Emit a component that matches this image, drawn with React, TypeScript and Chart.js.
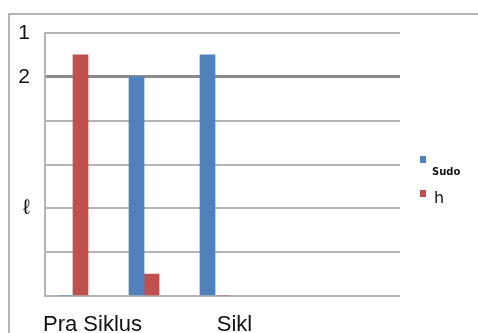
import React, { useEffect, useRef } from "react";
import { Chart, registerables } from "chart.js";

Chart.register(...registerables);

const categories = ["Pra Siklus", "", "Sikl", "", ""];
const sudoValues = [0, 5, 5.5, null, null];
const hValues = [5.5, 0.5, 0, null, null];
const emptyValues = [null, null, null, null, null];
const seriesNames = ["Sudo", "h"];
const yTickLabels = ["", "", "ℓ", "", "", "2", "1"];

const BLUE = "#4F81BD";
const RED = "#C0504D";

const legendPlugin = {
  id: "customLegend",
  afterDraw(chart: any) {
    const ctx = chart.ctx;
    const ds = chart.data.datasets;
    ctx.save();
    ctx.textBaseline = "alphabetic";
    ctx.textAlign = "left";
    ctx.fillStyle = ds[0].backgroundColor;
    ctx.fillRect(410, 141, 6, 7);
    ctx.fillStyle = "#111";
    ctx.font = "bold 10px 'DejaVu Sans'";
    ctx.fillText(ds[0].label, 422, 160);
    ctx.fillStyle = ds[1].backgroundColor;
    ctx.fillRect(410, 175, 6, 7);
    ctx.fillStyle = "#111";
    ctx.font = "16px 'DejaVu Sans'";
    ctx.fillText(ds[1].label, 424, 188);
    ctx.restore();
  },
};

const areaPlugin = {
  id: "fixedArea",
  afterLayout(chart: any) {
    // keep plot top fixed regardless of label padding
    const a = chart.chartArea;
    const wantTop = 18;
    if (a.top !== wantTop) {
      const y = chart.scales.y;
      a.top = wantTop;
      a.height = a.bottom - a.top;
      y.top = wantTop;
      y.height = a.bottom - wantTop;
      y.configure();
    }
  },
};

export default function App() {
  const ref = useRef<HTMLCanvasElement | null>(null);
  useEffect(() => {
    if (!ref.current) return;
    const chart = new Chart(ref.current, {
      type: "bar",
      data: {
        labels: categories,
        datasets: [
          { label: seriesNames[0], data: sudoValues, backgroundColor: BLUE, barThickness: 15 },
          { label: seriesNames[1], data: hValues, backgroundColor: RED, barThickness: 15 },
          { label: "", data: emptyValues, backgroundColor: "transparent", barThickness: 15 },
        ],
      },
      options: {
        animation: false,
        responsive: false,
        maintainAspectRatio: false,
        layout: { autoPadding: false, padding: { top: 18, right: 78, left: 0, bottom: 0 } },
        plugins: { legend: { display: false }, tooltip: { enabled: false } },
        scales: {
          x: {
            grid: { display: false, drawTicks: false },
            border: { display: false },
            ticks: {
              color: "#111",
              font: { family: "'Liberation Sans'", size: 22 },
              padding: 16,
              labelOffset: 12,
              autoSkip: false,
              maxRotation: 0,
            },
            afterFit(scale: any) {
              scale.height = 49;
            },
          },
          y: {
            min: 0,
            max: 6,
            grid: {
              drawTicks: false,
              color: (c: any) => (c.tick && c.tick.value === 5 ? "#8a8a8a" : "#b4b4b4"),
              lineWidth: (c: any) => (c.tick && c.tick.value === 5 ? 3 : 2),
            },
            border: { display: true, color: "#b4b4b4", width: 2 },
            ticks: {
              stepSize: 1,
              color: "#111",
              font: { family: "'Liberation Sans'", size: 21 },
              padding: 15,
              callback: (v: any) => yTickLabels[Number(v)] ?? "",
            },
            afterFit(scale: any) {
              scale.width = 35;
            },
          },
        },
      },
      plugins: [areaPlugin, legendPlugin],
    });
    return () => chart.destroy();
  }, []);
  return (
    <div
      style={{
        position: "absolute",
        left: 8,
        top: 13,
        borderTop: "2px solid #b4b4b4",
        borderLeft: "2px solid #b4b4b4",
        width: 468,
        height: 318,
        overflow: "hidden",
      }}
    >
      <canvas ref={ref} width={468} height={330} style={{ display: "block" }} />
    </div>
  );
}
